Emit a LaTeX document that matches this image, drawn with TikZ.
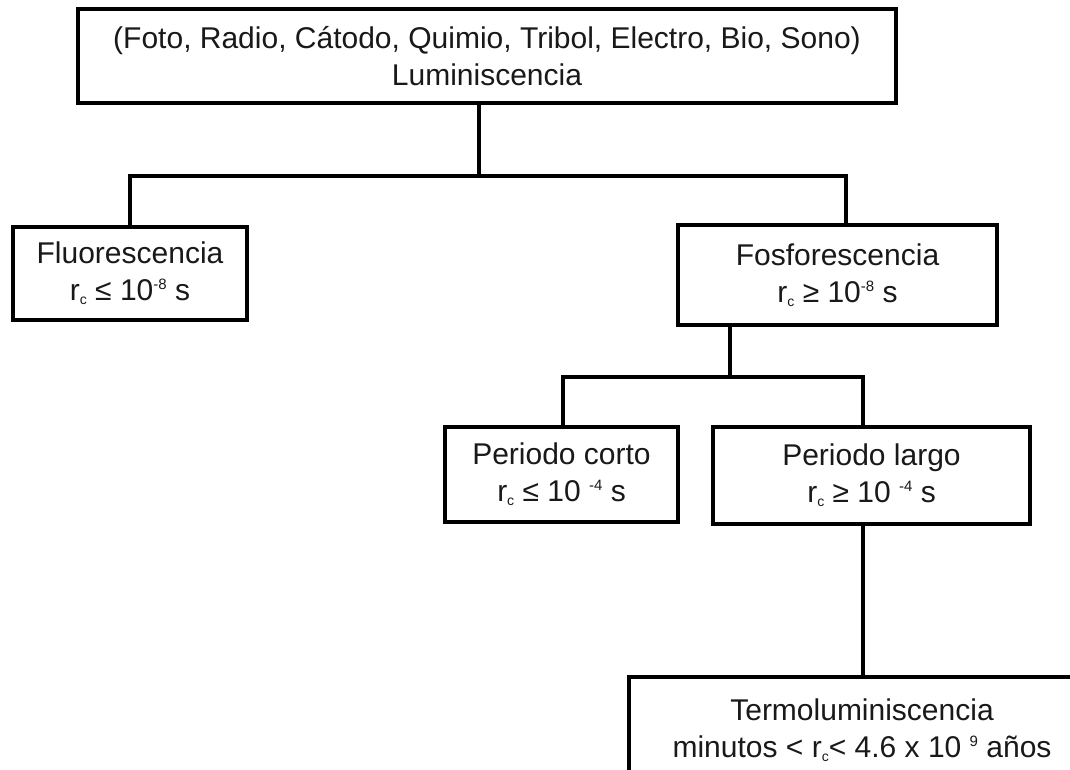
\documentclass[tikz,border=0pt]{standalone}
\usepackage{fontspec}
\setmainfont{Liberation Sans}
\newcommand{\rcx}{r\raisebox{-4pt}{\fontsize{14}{14}\selectfont c}}
\newcommand{\supx}[1]{\raisebox{11pt}{\fontsize{15}{15}\selectfont #1}}
\begin{document}
\begin{tikzpicture}[x=1pt,y=-1pt,
  box/.style={draw, line width=3.1pt, inner sep=0pt, align=center,
    font=\fontsize{30}{37}\selectfont, text=black!90},
  link/.style={line width=3.1pt}]
\useasboundingbox (0,0) rectangle (1070,770);
\fill[white] (0,0) rectangle (1070,770);
\clip (0,0) rectangle (1070,770);
\node[box, minimum width=818pt, minimum height=94pt] (top) at (487,56)
  {(Foto, Radio, Cátodo, Quimio, Tribol, Electro, Bio, Sono)\\Luminiscencia};
\node[box, minimum width=234pt, minimum height=93pt] (fluo) at (130,273.5)
  {Fluorescencia\\\rcx{} ≤ 10\supx{-8} s};
\node[box, minimum width=319pt, minimum height=100pt] (fosfo) at (837.5,275)
  {Fosforescencia\\\rcx{} ≥ 10\supx{-8} s};
\node[box, minimum width=233pt, minimum height=95pt] (pcorto) at (561.5,474.5)
  {Periodo corto\\\rcx{} ≤ 10 \supx{-4} s};
\node[box, minimum width=317pt, minimum height=97pt] (plargo) at (871.5,475.5)
  {Periodo largo\\\rcx{} ≥ 10 \supx{-4} s};
\node[box, minimum width=466pt, minimum height=106pt] (termo) at (862,730)
  {Termoluminiscencia\\minutos < \rcx{}< 4.6 x 10 \supx{9} años};
\coordinate (j1) at (479,176);
\coordinate (j1r) at (846,176);
\coordinate (j2) at (730,377);
\coordinate (j2l) at (563,377);
\coordinate (j2r) at (863,377);
\draw[link] (top.south -| j1) -- (j1);
\draw[link] (fluo.north) |- (j1r) -- (fosfo.north -| j1r);
\draw[link] (fosfo.south -| j2) -- (j2);
\draw[link] (pcorto.north -| j2l) -- (j2l) -- (j2r) -- (plargo.north -| j2r);
\draw[link] (plargo.south -| j2r) -- (termo.north -| j2r);
\end{tikzpicture}
\end{document}
